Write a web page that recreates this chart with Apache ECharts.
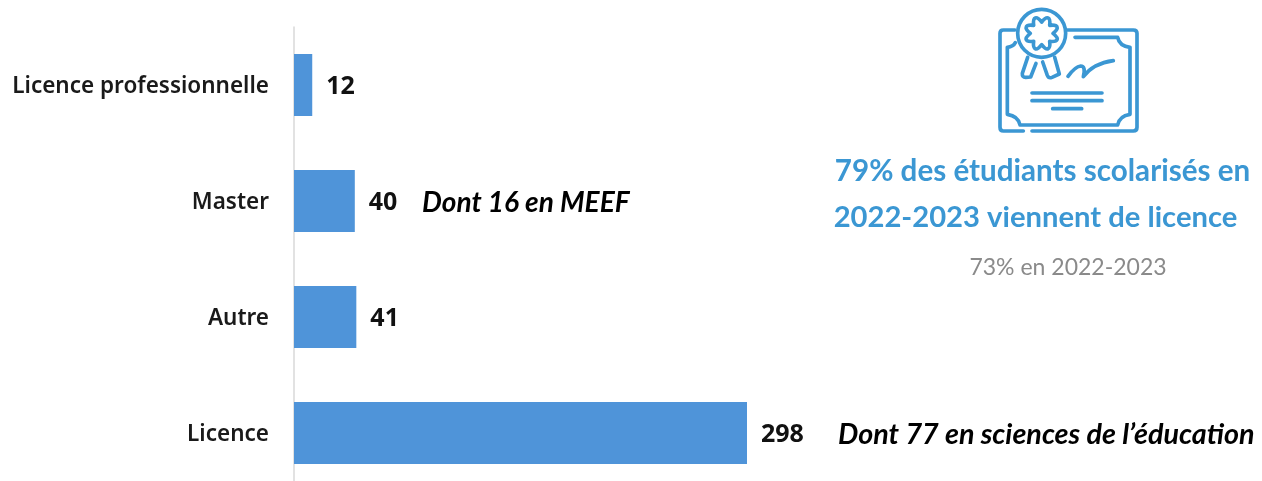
<!DOCTYPE html>
<html><head><meta charset="utf-8">
<style>html,body{margin:0;padding:0;background:#fff}#c{width:1262px;height:481px}</style>
<script src="https://cdn.jsdelivr.net/npm/echarts@6/dist/echarts.min.js"></script>
</head><body><div id="c"></div>
<script>
const categories = ['Licence professionnelle','Master','Autre','Licence'];
const values = [12,40,41,298];
const noteMaster = 'Dont 16 en MEEF';
const noteLicence = 'Dont 77 en sciences de l’éducation';
const headline1 = '79% des étudiants scolarisés en';
const headline2 = '2022-2023 viennent de licence';
const subline = '73% en 2022-2023';
const BLUE = '#3b97d3';

function starPath(cx,cy,ro,ri,n){
  let d='';
  for(let i=0;i<n;i++){
    const a0=(i/n)*2*Math.PI-Math.PI/2, a1=((i+.5)/n)*2*Math.PI-Math.PI/2, a2=((i+1)/n)*2*Math.PI-Math.PI/2;
    const p=(a,r)=>(cx+r*Math.cos(a)).toFixed(1)+' '+(cy+r*Math.sin(a)).toFixed(1);
    if(i===0) d+='M'+p(a0,ri);
    d+=' Q'+p(a1-.15,ro+1)+' '+p(a1,ro)+' Q'+p(a1+.15,ro+1)+' '+p(a2,ri);
  }
  return d+'Z';
}
const iconPaths = [
  'M165 90 L130 90 Q120 90 120 100 L120 382 Q120 393 130 393 L190 393',
  'M216 393 L520 393 Q531 393 531 382 L531 100 Q531 90 520 90 L322 90',
  'M345 112 L473 112 Q478 138 510 142 L510 343 Q478 348 473 375 L180 375 Q175 348 142 343 L142 142 Q160 140 166 128',
  starPath(245,100,50,34,8),
  'M203 172 L187 220 Q186 232 197 232 L212 231 L228 190',
  'M248 186 L262 226 Q266 236 276 232 L298 222 L284 172',
  'M324 229 Q345 200 362 198 Q378 198 370 230 Q400 190 460 182',
  'M216 279 L426 279','M216 302 L426 302','M278 326 L365 326'
];
iconPaths.forEach((d,i)=>echarts.graphic.registerShape('iconP'+i, echarts.graphic.extendPath(d,{})));
const iconStyle = {stroke:BLUE,fill:null,lineWidth:11,lineCap:'round',lineJoin:'round'};
const icon = {type:'group',x:960,y:0,scaleX:1/3,scaleY:1/3,children:[
  {type:'circle',shape:{cx:245,cy:100,r:72},style:{stroke:BLUE,fill:'#fff',lineWidth:11}},
  ...iconPaths.map((d,i)=>({type:'iconP'+i,shape:{},style:iconStyle}))
]};

const txt=(x,y,text,font,fill,align)=>({type:'text',x,y,style:{text,font,fill,align:align||'left',verticalAlign:'middle'}});

const chart = echarts.init(document.getElementById('c'),null,{renderer:'canvas'});
chart.setOption({
  animation:false,
  backgroundColor:'#fff',
  grid:{left:294,top:27,width:453,height:464,containLabel:false,outerBoundsMode:'none'},
  xAxis:{type:'value',min:0,max:298,show:false},
  yAxis:{type:'category',inverse:true,data:categories,
    axisLine:{show:true,lineStyle:{color:'#d9d9d9',width:1.5}},
    axisTick:{show:false},
    axisLabel:{margin:25,formatter:'{a|{value}}',
      rich:{a:{padding:[4,0,0,0],color:'#1a1a1a',fontFamily:'"Noto Sans"',fontWeight:600,fontSize:22.5}}}
  },
  series:[{type:'bar',data:values,barWidth:62,itemStyle:{color:'#4f94d9'},
    label:{show:true,position:'right',distance:14,offset:[0,2],color:'#111',fontFamily:'"Noto Sans"',fontWeight:700,fontSize:25}
  }],
  graphic:[
    icon,
    txt(422,203,noteMaster,'italic bold 28px Lato','#000'),
    txt(838,435,noteLicence,'italic bold 28.7px Lato','#000'),
    txt(1042.5,171,headline1,'bold 29.6px Lato',BLUE,'center'),
    txt(1035.5,218,headline2,'bold 29.2px Lato',BLUE,'center'),
    txt(1068,268,subline,'23px Lato','#8a8a8a','center')
  ]
});
</script></body></html>
